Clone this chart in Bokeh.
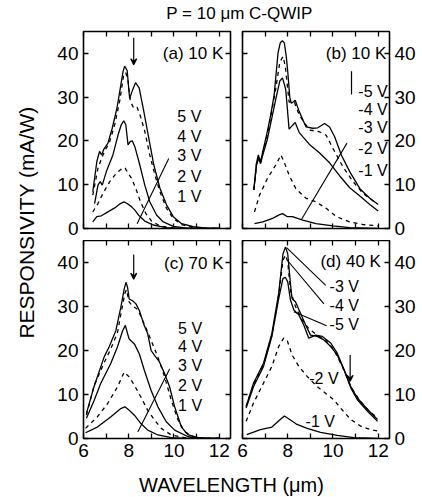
import math
from bokeh.plotting import figure
from bokeh.layouts import column, row
from bokeh.models import Range1d, LinearAxis, FixedTicker, Arrow, VeeHead, CustomJSTickFormatter
from bokeh.core.properties import value
from bokeh.embed import file_html
from bokeh.resources import INLINE

FONT = "Liberation Sans"

# ---------------- data (wavelength in um, responsivity in mA/W) ----------------
# (a) 10 K, positive bias
a1_x = [6.41, 6.59, 6.79, 7.08, 7.38, 7.63, 7.79, 7.93, 8.12, 8.27, 8.46, 8.71, 9.08, 9.67, 10.41, 11.2, 12.0]
a1_y = [1.5, 2.7, 2.9, 3.8, 4.7, 5.7, 6.1, 5.7, 5.0, 4.2, 2.9, 1.7, 0.8, 0.2, 0.05, 0, 0]
a2_x = [6.41, 6.64, 6.86, 7.16, 7.45, 7.72, 7.84, 7.97, 8.12, 8.31, 8.52, 8.76, 9.01, 9.38, 9.97, 10.56, 11.5, 12.0]
a2_y = [3.8, 5.7, 8.0, 10.7, 12.6, 13.8, 13.8, 12.6, 11.5, 9.2, 6.1, 3.4, 1.7, 0.6, 0.1, 0, 0, 0]
a3_x = [6.49, 6.64, 6.74, 6.83, 7.01, 7.3, 7.53, 7.67, 7.78, 7.87, 7.97, 8.07, 8.16, 8.27, 8.49, 8.71, 8.93, 9.23, 9.53, 9.97, 10.56, 11.16, 12.0]
a3_y = [5.7, 9.9, 10.7, 9.9, 13.0, 16.8, 21.4, 23.7, 24.6, 23.7, 19.1, 19.9, 20.0, 18.7, 14.5, 9.9, 6.1, 3.1, 1.5, 0.5, 0.1, 0, 0]
a4_x = [6.41, 6.64, 6.86, 7.16, 7.38, 7.6, 7.78, 7.87, 7.97, 8.07, 8.22, 8.37, 8.52, 8.71, 8.93, 9.16, 9.38, 9.67, 9.97, 10.34, 10.86, 11.45, 12.0]
a4_y = [7.6, 13.8, 16.8, 19.9, 23.7, 29.1, 35.2, 35.6, 33.6, 29.1, 27.5, 27.7, 25.6, 22.2, 16.8, 12.2, 8.4, 4.6, 2.3, 0.9, 0.2, 0, 0]
a5_x = [6.41, 6.59, 6.71, 6.8, 6.89, 7.08, 7.27, 7.48, 7.63, 7.75, 7.82, 7.93, 8.04, 8.16, 8.3, 8.46, 8.64, 8.86, 9.11, 9.38, 9.67, 9.97, 10.34, 10.86, 11.45, 12.0]
a5_y = [8.4, 15.3, 17.6, 16.8, 18.0, 19.5, 22.9, 27.5, 32.1, 35.9, 37.1, 36.1, 29.7, 31.5, 33.3, 32.1, 27.5, 21.4, 14.5, 9.2, 5.4, 2.7, 1.1, 0.4, 0.1, 0]

# (b) 10 K, negative bias
b1_x = [6.53, 6.9, 7.33, 7.62, 7.77, 7.99, 8.21, 8.66, 9.25, 10.0, 10.74, 11.5, 12.0]
b1_y = [1.1, 1.5, 2.3, 3.1, 3.4, 2.7, 2.7, 1.9, 1.1, 0.6, 0.2, 0.1, 0]
b2_x = [6.53, 6.75, 7.1, 7.47, 7.7, 7.84, 8.06, 8.36, 8.81, 9.25, 9.7, 10.15, 10.74, 11.33, 12.0]
b2_y = [3.8, 7.6, 11.4, 14.5, 16.8, 15.2, 12.2, 9.1, 6.9, 6.1, 4.6, 2.7, 1.5, 0.9, 0.6]
b3_x = [6.5, 6.62, 6.7, 6.8, 6.88, 7.1, 7.47, 7.65, 7.77, 7.91, 8.06, 8.2, 8.33, 8.51, 8.96, 9.4, 9.85, 10.3, 10.74, 11.19, 11.63, 12.0]
b3_y = [8.8, 14.5, 16.0, 14.8, 16.5, 20.4, 29.5, 33.7, 34.4, 31.8, 22.7, 23.5, 24.2, 21.9, 19.2, 17.3, 15.0, 12.0, 9.3, 7.4, 5.5, 4.0]
b4_x = [6.5, 6.62, 6.7, 6.8, 6.88, 7.1, 7.47, 7.65, 7.79, 7.89, 8.06, 8.29, 8.51, 8.96, 9.4, 9.7, 10.0, 10.44, 10.89, 11.33, 11.93]
b4_y = [8.8, 14.8, 16.3, 15.0, 16.8, 21.2, 31.9, 38.0, 39.3, 37.2, 28.9, 28.9, 25.9, 22.5, 22.1, 21.3, 18.3, 14.1, 10.7, 8.0, 5.7]
b5_x = [6.5, 6.62, 6.7, 6.8, 6.88, 7.1, 7.25, 7.4, 7.57, 7.67, 7.76, 7.85, 7.94, 8.01, 8.09, 8.16, 8.27, 8.33, 8.51, 8.81, 9.1, 9.33, 9.63, 9.85, 10.07, 10.37, 10.74, 11.19, 11.63, 12.0]
b5_y = [8.8, 15.0, 16.8, 15.2, 17.2, 22.2, 26.0, 30.5, 40.1, 42.4, 42.9, 42.4, 39.1, 35.3, 30.0, 28.6, 29.0, 29.3, 26.7, 23.2, 22.9, 23.0, 24.0, 23.2, 21.0, 16.8, 13.0, 9.1, 6.9, 5.5]

# (c) 70 K, positive bias
c1_x = [6.09, 6.61, 7.2, 7.65, 7.83, 8.02, 8.25, 8.54, 8.84, 9.29, 9.88, 10.63, 11.5, 12.0]
c1_y = [1.3, 2.6, 4.9, 6.8, 7.2, 6.4, 5.3, 3.4, 1.9, 0.8, 0.2, 0, 0, 0]
c2_x = [6.09, 6.61, 7.06, 7.5, 7.8, 8.02, 8.25, 8.54, 8.84, 9.14, 9.44, 9.88, 10.48, 11.22, 12.0]
c2_y = [2.3, 4.9, 7.9, 11.7, 15.1, 14.0, 12.1, 9.4, 6.4, 4.2, 2.3, 0.8, 0.2, 0, 0]
c3_x = [6.13, 6.46, 6.76, 7.2, 7.5, 7.73, 7.85, 7.95, 8.02, 8.25, 8.47, 8.69, 8.99, 9.29, 9.66, 10.03, 10.63, 11.22, 12.0]
c3_y = [4.6, 8.5, 12.5, 17.0, 20.8, 24.5, 25.7, 23.8, 22.6, 21.5, 19.2, 15.5, 10.9, 7.2, 3.8, 1.9, 0.4, 0, 0]
c4_x = [6.13, 6.46, 6.91, 7.2, 7.5, 7.68, 7.83, 7.9, 8.02, 8.2, 8.4, 8.69, 8.99, 9.29, 9.59, 9.88, 10.18, 10.48, 10.9, 11.5, 12.0]
c4_y = [5.3, 11.9, 17.2, 20.3, 24.0, 29.0, 33.0, 33.8, 31.0, 30.0, 29.3, 26.0, 22.3, 18.5, 14.0, 8.7, 4.2, 1.5, 0.3, 0, 0]
c5_x = [6.13, 6.46, 6.91, 7.13, 7.43, 7.65, 7.8, 7.88, 7.95, 8.02, 8.17, 8.32, 8.47, 8.66, 8.84, 8.99, 9.14, 9.36, 9.59, 9.81, 10.03, 10.33, 10.63, 11.07, 11.67, 12.0]
c5_y = [5.7, 11.7, 18.5, 20.8, 24.5, 29.8, 34.0, 35.5, 34.3, 31.7, 31.3, 30.6, 29.1, 26.0, 23.8, 20.0, 18.9, 17.4, 14.7, 11.7, 7.2, 2.6, 0.8, 0.2, 0, 0]

# (d) 40 K, negative bias
d1_x = [6.19, 6.79, 7.3, 7.67, 7.85, 8.04, 8.41, 8.86, 9.45, 10.19, 10.93, 11.67, 11.97]
d1_y = [0.9, 2.0, 2.6, 4.3, 5.1, 4.5, 3.2, 2.3, 1.4, 0.7, 0.2, 0.1, 0]
d2_x = [6.16, 6.49, 6.93, 7.3, 7.6, 7.82, 7.97, 8.19, 8.49, 8.86, 9.3, 9.67, 10.04, 10.34, 10.79, 11.23, 11.67, 11.97]
d2_y = [3.9, 8.1, 12.6, 16.4, 20.9, 22.8, 22.4, 19.0, 16.4, 14.1, 11.8, 10.3, 8.8, 6.9, 4.3, 2.8, 2.0, 1.7]
d3_x = [6.16, 6.49, 6.93, 7.3, 7.6, 7.79, 7.9, 8.0, 8.12, 8.19, 8.34, 8.56, 8.79, 9.01, 9.3, 9.6, 9.9, 10.19, 10.49, 10.79, 11.08, 11.53, 11.97]
d3_y = [7.3, 12.6, 17.1, 23.9, 33.0, 42.0, 43.5, 42.0, 35.2, 31.8, 31.1, 28.5, 25.8, 23.5, 23.2, 22.4, 20.9, 19.0, 15.6, 11.8, 9.2, 6.6, 4.3]
d4_x = [6.16, 6.49, 6.93, 7.3, 7.6, 7.79, 7.9, 8.0, 8.12, 8.34, 8.64, 8.93, 9.3, 9.67, 10.04, 10.41, 10.79, 11.16, 11.6, 11.97]
d4_y = [7.3, 12.3, 16.8, 23.5, 32.6, 40.5, 41.7, 40.2, 33.7, 30.0, 26.9, 25.0, 23.5, 22.4, 20.2, 16.4, 11.8, 8.8, 6.2, 4.7]
d5_x = [6.16, 6.49, 6.93, 7.3, 7.6, 7.79, 7.9, 8.0, 8.12, 8.27, 8.49, 8.71, 8.93, 9.23, 9.53, 9.9, 10.19, 10.49, 10.79, 11.08, 11.53, 11.97]
d5_y = [6.9, 11.8, 16.4, 23.2, 31.8, 36.4, 36.6, 35.6, 31.5, 29.2, 28.1, 25.8, 22.8, 23.5, 23.2, 21.7, 19.4, 15.6, 11.5, 8.8, 6.2, 3.9]

pos_labels = ["5 V", "4 V", "3 V", "2 V", "1 V"]
neg_labels = ["-5 V", "-4 V", "-3 V", "-2 V", "-1 V"]
x_ticks = [6, 8, 10, 12]
x_minor = [7, 9, 11]
y_ticks = [0, 10, 20, 30, 40]

# ---------------- helpers ----------------
LW = 1.3
DASH = "4 4"


def add_axis(p, side, show_labels, dim):
    if dim == "x":
        tk = FixedTicker(ticks=x_ticks, minor_ticks=x_minor)
    else:
        tk = FixedTicker(ticks=y_ticks)
    ax = LinearAxis(ticker=tk)
    ax.axis_line_color = None
    ax.major_tick_in = 5
    ax.major_tick_out = 0
    ax.minor_tick_in = 5
    ax.minor_tick_out = 0
    ax.major_tick_line_width = 1.3
    ax.minor_tick_line_width = 1.3
    ax.major_tick_line_color = "black"
    ax.minor_tick_line_color = "black"
    if show_labels:
        ax.major_label_text_font = FONT
        ax.major_label_text_font_size = "19px"
        ax.major_label_text_color = "black"
        ax.major_label_standoff = 5
    else:
        # tick marks only: empty labels
        ax.formatter = CustomJSTickFormatter(code="return '';")
        ax.major_label_text_font_size = "1px"
        ax.major_label_standoff = 0
    p.add_layout(ax, side)


def panel(w, h, bl, br, bt, bb, left_lab, right_lab, bottom_lab):
    p = figure(width=w, height=h, x_range=Range1d(6, 12.5), y_range=Range1d(0, 45),
               output_backend="svg", toolbar_location=None,
               x_axis_location=None, y_axis_location=None,
               min_border_left=bl, min_border_right=br,
               min_border_top=bt, min_border_bottom=bb)
    for g in p.grid:
        g.visible = False
    p.outline_line_color = "black"
    p.outline_line_width = 1.6
    p.background_fill_color = "white"
    p.border_fill_color = "white"
    add_axis(p, "left", left_lab, "y")
    add_axis(p, "right", right_lab, "y")
    add_axis(p, "above", False, "x")
    add_axis(p, "below", bottom_lab, "x")
    return p


def curves(p, data):
    for (xs, ys, dashed) in data:
        p.line(xs, ys, line_color="black", line_width=LW,
               line_dash=(DASH if dashed else "solid"))


def txt(p, xs, ys, texts, align, size):
    p.text(x=xs, y=ys, text=texts, text_font=value(FONT), text_font_size=size,
           text_align=align, text_baseline="middle", text_color="black")


def arrow(p, x, y0, y1, head=True):
    if head:
        p.add_layout(Arrow(end=VeeHead(size=6, line_width=1.2, line_color="black"),
                           x_start=x, y_start=y0, x_end=x, y_end=y1,
                           line_width=1.2, line_color="black"))
    else:
        p.segment(x0=[x], y0=[y0], x1=[x], y1=[y1], line_color="black", line_width=1.2)


# ---------------- panels ----------------
fa = panel(195, 216, 43, 5, 7, 12, True, False, False)
fb = panel(187, 216, 7, 33, 7, 12, False, True, False)
fc = panel(195, 230, 43, 5, 0, 32, True, False, True)
fd = panel(187, 230, 7, 33, 0, 32, False, True, True)

curves(fa, [(a1_x, a1_y, False), (a2_x, a2_y, True), (a3_x, a3_y, False),
            (a4_x, a4_y, True), (a5_x, a5_y, False)])
curves(fb, [(b1_x, b1_y, False), (b2_x, b2_y, True), (b3_x, b3_y, False),
            (b4_x, b4_y, True), (b5_x, b5_y, False)])
curves(fc, [(c1_x, c1_y, False), (c2_x, c2_y, True), (c3_x, c3_y, False),
            (c4_x, c4_y, True), (c5_x, c5_y, False)])
curves(fd, [(d1_x, d1_y, False), (d2_x, d2_y, True), (d3_x, d3_y, False),
            (d4_x, d4_y, True), (d5_x, d5_y, False)])

# panel (a) annotations
txt(fa, [12.18], [40.0], ["(a) 10 K"], "right", "17px")
txt(fa, [10.15] * 5, [25.5, 21.0, 16.6, 11.9, 7.3], pos_labels, "left", "16px")
fa.segment(x0=[8.37], y0=[1.1], x1=[9.77], y1=[16.0], line_color="black", line_width=1.1)
arrow(fa, 8.22, 43.6, 37.4)

# panel (b) annotations
txt(fb, [12.36], [40.0], ["(b) 10 K"], "right", "17px")
txt(fb, [12.42] * 5, [31.4, 27.2, 23.0, 18.3, 13.3], neg_labels, "right", "16px")
fb.segment(x0=[8.6], y0=[2.0], x1=[10.62], y1=[19.5], line_color="black", line_width=1.1)
arrow(fb, 10.82, 35.9, 30.6, head=False)

# panel (c) annotations
txt(fc, [12.19], [39.8], ["(c) 70 K"], "right", "17px")
txt(fc, [10.18] * 5, [24.9, 20.8, 16.6, 12.1, 7.5], pos_labels, "left", "16px")
fc.segment(x0=[8.4], y0=[1.5], x1=[9.81], y1=[15.8], line_color="black", line_width=1.1)
arrow(fc, 8.22, 41.8, 36.2)

# panel (d) annotations
txt(fd, [12.12], [40.2], ["(d) 40 K"], "right", "17px")
txt(fd, [9.85, 9.85, 9.85], [34.5, 30.3, 25.9], ["-3 V", "-4 V", "-5 V"], "left", "16px")
txt(fd, [8.95], [13.7], ["-2 V"], "left", "16px")
txt(fd, [8.79], [3.9], ["-1 V"], "left", "16px")
fd.segment(x0=[7.95, 8.0, 8.27], y0=[43.4, 40.4, 28.8],
           x1=[9.68, 9.6, 9.72], y1=[34.8, 30.6, 25.6], line_color="black", line_width=1.1)
arrow(fd, 10.76, 19.0, 13.0)


# ---------------- surrounding texts ----------------
def blank(w, h):
    p = figure(width=w, height=h, x_range=Range1d(0, w), y_range=Range1d(0, h),
               output_backend="svg", toolbar_location=None,
               x_axis_location=None, y_axis_location=None,
               min_border=0, min_border_left=0, min_border_right=0,
               min_border_top=0, min_border_bottom=0)
    for g in p.grid:
        g.visible = False
    p.outline_line_color = None
    p.background_fill_color = "white"
    p.border_fill_color = "white"
    return p


title_fig = blank(422, 24)
title_fig.text(x=[239], y=[11], text=["P = 10 \u03bcm C-QWIP"], text_font=value(FONT),
               text_font_size="17px", text_align="center", text_baseline="middle",
               text_color="black")

ylab_fig = blank(40, 446)
ylab_fig.text(x=[26], y=[248], text=["RESPONSIVITY (mA/W)"], text_font=value(FONT),
              text_font_size="21px", text_align="center", text_baseline="middle",
              angle=math.pi / 2, text_color="black")

xlab_fig = blank(422, 27)
xlab_fig.text(x=[231], y=[13], text=["WAVELENGTH (\u03bcm)"], text_font=value(FONT),
              text_font_size="20px", text_align="center", text_baseline="middle",
              text_color="black")

grid = column(row(fa, fb, spacing=0), row(fc, fd, spacing=0), spacing=0)
layout = column(title_fig, row(ylab_fig, grid, spacing=0), xlab_fig, spacing=0)

open("out.html", "w").write(file_html(layout, INLINE))
